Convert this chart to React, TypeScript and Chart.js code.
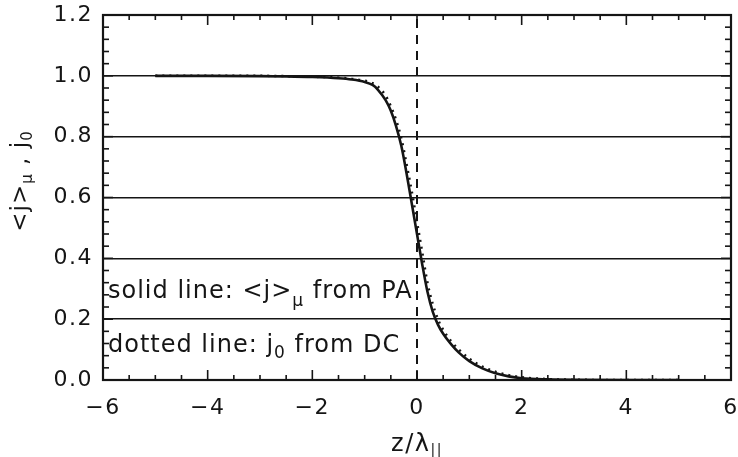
import React, { useEffect, useRef } from "react";
import { Chart, registerables } from "chart.js";
Chart.register(...registerables);

// ---- data ----
const zOverLambda = [-5, -4, -3, -2.5, -2, -1.5, -1.25, -1, -0.85, -0.75, -0.6, -0.5, -0.4, -0.3, -0.2, -0.1, 0, 0.1, 0.2, 0.3, 0.4, 0.5, 0.65, 0.8, 1.0, 1.25, 1.5, 1.75, 2, 2.5, 3, 4, 5];
const solidJmu = [1.0, 1.0, 0.999, 0.998, 0.996, 0.992, 0.988, 0.98, 0.97, 0.955, 0.92, 0.885, 0.835, 0.77, 0.68, 0.58, 0.48, 0.38, 0.29, 0.225, 0.182, 0.152, 0.118, 0.09, 0.062, 0.038, 0.022, 0.012, 0.006, 0.002, 0.0005, 0, 0];
const dottedJ0 = [1.0, 1.0, 1.0, 0.999, 0.997, 0.994, 0.99, 0.984, 0.976, 0.965, 0.935, 0.9, 0.855, 0.795, 0.71, 0.62, 0.52, 0.42, 0.32, 0.25, 0.2, 0.165, 0.128, 0.1, 0.07, 0.044, 0.027, 0.016, 0.009, 0.003, 0.001, 0, 0];
const zeroLineX = [0, 0];
const zeroLineY = [0, 1.2];
const xTickValues = [-6, -4, -2, 0, 2, 4, 6];
const yTickValues = [0, 0.2, 0.4, 0.6, 0.8, 1.0, 1.2];
const xMinorStep = 0.5;
const yMinorStep = 0.04;
const annotationSolid = ["solid line: <j>", "\u03bc", " from PA"];
const annotationDotted = ["dotted line: j", "0", " from DC"];
const yTitleParts = ["<j>", "\u03bc", " , j", "0"];
const xTitleParts = ["z/\u03bb", "||"];

const FONT = '"DejaVu Sans", sans-serif';
const INK = "#151515";

function richWidth(ctx: any, parts: string[], main: number, sub: number) {
  let w = 0;
  parts.forEach((p, i) => {
    ctx.font = `${i % 2 ? sub : main}px ${FONT}`;
    w += ctx.measureText(p).width;
  });
  return w;
}
function drawRich(ctx: any, parts: string[], x: number, y: number, main: number, sub: number, drop: number) {
  let cx = x;
  parts.forEach((p, i) => {
    const isSub = i % 2 === 1;
    ctx.font = `${isSub ? sub : main}px ${FONT}`;
    ctx.fillText(p, cx, y + (isSub ? drop : 0));
    cx += ctx.measureText(p).width;
  });
}

const spacingPlugin = {
  id: "spacing",
  beforeInit(chart: any) {
    chart.ctx.letterSpacing = "1.5px";
  },
  beforeUpdate(chart: any) {
    chart.ctx.letterSpacing = "1.5px";
  },
  beforeDraw(chart: any) {
    chart.ctx.letterSpacing = "1.5px";
  },
};

const decorPlugin = {
  id: "decor",
  afterDraw(chart: any) {
    const { ctx, chartArea: a, scales } = chart;
    const xs = scales.x;
    const ys = scales.y;
    ctx.save();
    ctx.strokeStyle = INK;
    ctx.lineWidth = 1.6;
    const seg = (x1: number, y1: number, x2: number, y2: number) => {
      ctx.beginPath();
      ctx.moveTo(x1, y1);
      ctx.lineTo(x2, y2);
      ctx.stroke();
    };
    const nx = Math.round((xs.max - xs.min) / xMinorStep);
    for (let i = 0; i <= nx; i++) {
      const v = xs.min + i * xMinorStep;
      const px = xs.getPixelForValue(v);
      const major = xTickValues.some((t) => Math.abs(t - v) < 1e-6);
      const len = major ? 10 : 5;
      seg(px, a.bottom, px, a.bottom - len);
      seg(px, a.top, px, a.top + len);
    }
    const ny = Math.round((ys.max - ys.min) / yMinorStep);
    for (let i = 0; i <= ny; i++) {
      const v = ys.min + i * yMinorStep;
      const py = ys.getPixelForValue(v);
      const major = yTickValues.some((t) => Math.abs(t - v) < 1e-6);
      const len = major ? 10 : 6;
      seg(a.left, py, a.left + len, py);
      seg(a.right, py, a.right - len, py);
    }
    ctx.lineWidth = 2.2;
    ctx.strokeRect(a.left, a.top, a.right - a.left, a.bottom - a.top);

    // annotations
    ctx.fillStyle = INK;
    ctx.textAlign = "left";
    ctx.textBaseline = "alphabetic";
    ctx.letterSpacing = "1px";
    drawRich(ctx, annotationSolid, a.left + 5, a.top + 283, 24, 17, 8);
    drawRich(ctx, annotationDotted, a.left + 5, a.top + 337, 24, 17, 6);

    // x title
    ctx.letterSpacing = "1.5px";
    const xw = richWidth(ctx, xTitleParts, 24, 14);
    drawRich(ctx, xTitleParts, xs.getPixelForValue(0) - xw / 2, 451, 24, 14, 3);

    // y title
    ctx.translate(27, 181);
    ctx.rotate(-Math.PI / 2);
    ctx.letterSpacing = "1px";
    const yw = richWidth(ctx, yTitleParts, 23, 15);
    drawRich(ctx, yTitleParts, -yw / 2, 0, 23, 15, 5);
    ctx.restore();
  },
};

export default function App() {
  const ref = useRef<HTMLCanvasElement | null>(null);
  useEffect(() => {
    if (!ref.current) return;
    const chart = new Chart(ref.current, {
      type: "line",
      data: {
        datasets: [
          {
            label: "zero",
            data: zeroLineX.map((x, i) => ({ x, y: zeroLineY[i] })),
            borderColor: INK,
            borderWidth: 2,
            borderDash: [9, 7],
            pointRadius: 0,
            tension: 0,
          },
          {
            label: "dotted",
            data: zOverLambda.map((x, i) => ({ x, y: dottedJ0[i] })),
            borderColor: INK,
            borderWidth: 2.5,
            borderDash: [2, 5],
            pointRadius: 0,
            cubicInterpolationMode: "monotone",
          },
          {
            label: "solid",
            data: zOverLambda.map((x, i) => ({ x, y: solidJmu[i] })),
            borderColor: INK,
            borderWidth: 2.6,
            pointRadius: 0,
            cubicInterpolationMode: "monotone",
          },
        ],
      },
      options: {
        animation: false,
        responsive: true,
        maintainAspectRatio: false,
        layout: { padding: { left: 0, top: 15, right: 7, bottom: 0 } },
        plugins: { legend: { display: false }, tooltip: { enabled: false } },
        scales: {
          x: {
            type: "linear",
            min: -6,
            max: 6,
            afterBuildTicks: (s: any) => {
              s.ticks = xTickValues.map((v) => ({ value: v }));
            },
            afterFit: (s: any) => {
              s.height = 77;
              s.paddingLeft = 0;
              s.paddingRight = 0;
              s.paddingTop = 0;
              s.paddingBottom = 0;
            },
            grid: { display: false, drawTicks: false },
            border: { display: false },
            ticks: {
              padding: 15,
              color: INK,
              font: { family: FONT, size: 22 },
              callback: (v: any) => String(v).replace("-", "\u2212"),
            },
          },
          y: {
            type: "linear",
            min: 0,
            max: 1.2,
            afterBuildTicks: (s: any) => {
              s.ticks = yTickValues.map((v) => ({ value: v }));
            },
            afterFit: (s: any) => {
              s.width = 103;
              s.paddingLeft = 0;
              s.paddingRight = 0;
              s.paddingTop = 0;
              s.paddingBottom = 0;
            },
            grid: { color: INK, lineWidth: 1.5, drawTicks: false },
            border: { display: false },
            ticks: {
              padding: 10,
              color: INK,
              font: { family: FONT, size: 22 },
              callback: (v: any) => Number(v).toFixed(1),
            },
          },
        },
      },
      plugins: [spacingPlugin, decorPlugin],
    } as any);
    return () => chart.destroy();
  }, []);
  return (
    <div style={{ position: "absolute", left: 0, top: 0, width: 738, height: 457, background: "#fff" }}>
      <canvas ref={ref} />
    </div>
  );
}
